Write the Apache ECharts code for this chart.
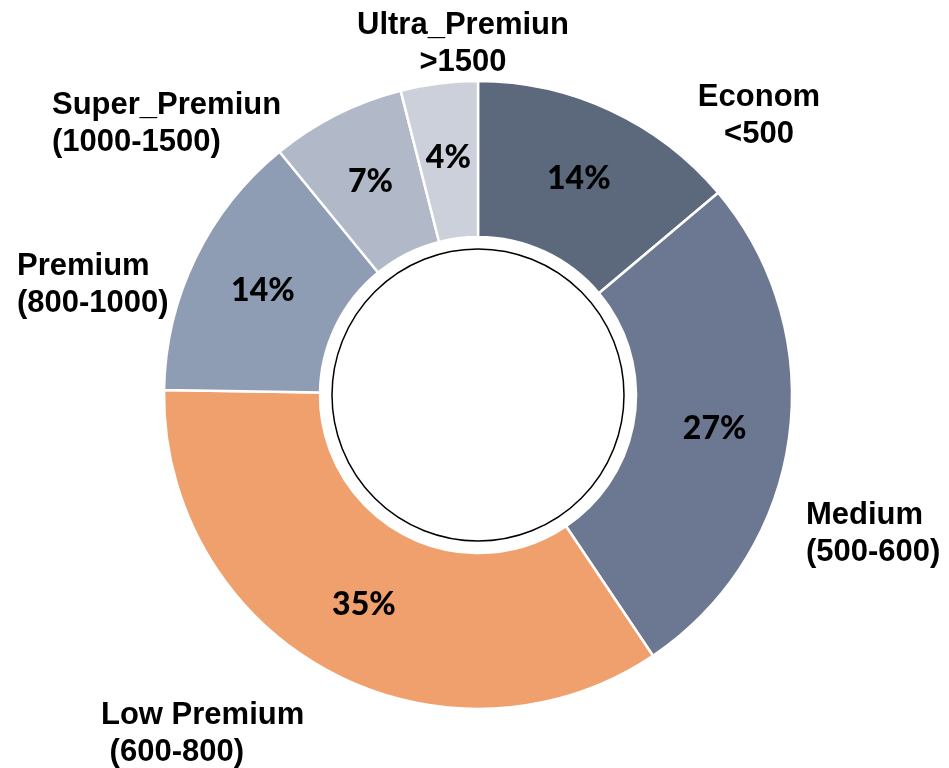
<!DOCTYPE html>
<html>
<head>
<meta charset="utf-8">
<title>Price segments</title>
<script src="https://cdn.jsdelivr.net/npm/echarts@6/dist/echarts.min.js"></script>
<style>
    html, body { margin: 0; padding: 0; background: #fff; }
    #chart { width: 949px; height: 768px; }
</style>
</head>
<body>
<div id="chart"></div>
<script>
    // 数据：从顶部开始顺时针
    const segments = ['Econom\n<500', 'Medium\n(500-600)', 'Low Premium\n (600-800)', 'Premium\n(800-1000)', 'Super_Premiun\n(1000-1500)', 'Ultra_Premiun\n>1500']
    const shares = [14, 27, 35, 14, 7, 4]
    const colors = ['#5c687c', '#6c7891', '#f0a06c', '#8f9db4', '#b1b8c7', '#cbd0da']

    // 外侧名称标签的位置 [x, y, 对齐]
    const namePos = [
        [759, 116, 'center'],
        [806, 534, 'left'],
        [101, 734, 'left'],
        [17, 285, 'left'],
        [52, 124, 'left'],
        [463, 44, 'center']
    ]

    let center = [478, 395]
    let ring = [158, 314]

    let chart = echarts.init(document.getElementById('chart'))

    chart.setOption({
        animation: false,
        color: colors,
        series: [
            {
                // 中间白色圆 + 黑边
                type: 'pie',
                center,
                radius: [0, 146],
                silent: true,
                label: { show: false },
                labelLine: { show: false },
                itemStyle: { color: '#fff', borderColor: '#000', borderWidth: 1.5 },
                data: [{ value: 1, name: 'hole' }]
            },
            {
                type: 'pie',
                center,
                radius: ring,
                startAngle: 90,
                silent: true,
                itemStyle: { borderColor: '#fff', borderWidth: 2.5 },
                label: {
                    show: true,
                    position: 'inside',
                    formatter: p => p.value + '%',
                    color: '#000',
                    fontFamily: 'Lato',
                    fontWeight: 900,
                    fontSize: 32
                },
                labelLine: { show: false },
                data: segments.map((s, i) => ({ name: s, value: shares[i] }))
            },
            {
                // 只用来放外侧名称
                type: 'pie',
                center,
                radius: ring,
                startAngle: 90,
                silent: true,
                itemStyle: { color: 'rgba(0,0,0,0)', borderWidth: 0 },
                label: {
                    show: true,
                    position: 'outside',
                    formatter: '{b}',
                    color: '#000',
                    fontFamily: 'Liberation Sans',
                    fontWeight: 'bold',
                    fontSize: 31,
                    lineHeight: 37,
                    overflow: 'none'
                },
                labelLine: { show: false },
                labelLayout: p => ({
                    x: namePos[p.dataIndex][0],
                    y: namePos[p.dataIndex][1],
                    align: namePos[p.dataIndex][2],
                    verticalAlign: 'middle',
                    width: 300
                }),
                data: segments.map((s, i) => ({ name: s, value: shares[i] }))
            }
        ]
    })
</script>
</body>
</html>
